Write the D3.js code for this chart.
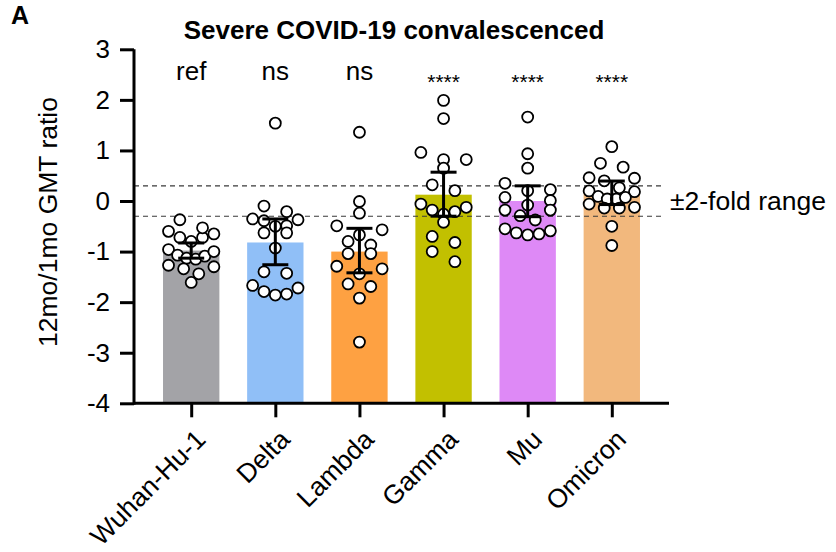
<!DOCTYPE html>
<html>
<head>
<meta charset="utf-8">
<script src="https://cdn.jsdelivr.net/npm/d3@7"></script>
<style>
  body { margin: 0; background: #fff; }
  text { font-family: "Liberation Sans", Arial, Helvetica, sans-serif; fill: #000; }
</style>
</head>
<body>
<svg id="chart" width="836" height="552"></svg>
<script>
// variants, bar colours and significance labels
var variants = ["Wuhan-Hu-1", "Delta", "Lambda", "Gamma", "Mu", "Omicron"];
var colors = ["#a3a3a7", "#90bff7", "#fea142", "#c2c000", "#de89f6", "#f2b87d"];
var sigLabels = ["ref", "ns", "ns", "****", "****", "****"];

// log10 ratio per donor
var wuhanVals = [-0.37, -0.60, -0.72, -0.80, -0.72, -0.65, -0.53, -0.96, -1.07, -1.13, -1.27, -1.15, -1.09, -1.00, -1.34, -1.30, -1.44, -1.61];
var deltaVals = [1.54, -0.10, -0.21, -0.355, -0.39, -0.50, -0.37, -0.49, -0.63, -0.63, -0.93, -1.43, -1.40, -1.67, -1.79, -1.86, -1.84, -1.72];
var lambdaVals = [1.36, -0.01, -0.24, -0.49, -0.57, -0.67, -0.80, -0.87, -1.04, -1.04, -1.29, -1.44, -1.34, -1.64, -1.69, -1.92, -2.79];
var gammaVals = [1.99, 1.63, 0.96, 0.82, 0.82, 0.65, 0.32, 0.205, -0.06, -0.125, -0.21, -0.26, -0.18, -0.42, -0.70, -0.82, -1.00, -1.20];
var muVals = [1.66, 0.935, 0.65, 0.35, 0.205, 0.225, 0.07, 0.01, -0.08, -0.18, -0.18, -0.29, -0.375, -0.55, -0.63, -0.67, -0.65, -0.59];
var omicronVals = [1.075, 0.67, 0.745, 0.46, 0.45, 0.40, 0.26, 0.20, 0.185, 0.09, 0.04, 0.04, 0.07, -0.125, -0.14, -0.14, -0.06, -0.50, -0.88];
var allVals = [wuhanVals, deltaVals, lambdaVals, gammaVals, muVals, omicronVals];

// bar heights (mean) and error bar ends
var means = [-0.98, -0.82, -1.00, 0.125, 0.00, 0.15];
var ciLow = [-1.13, -1.26, -1.42, -0.30, -0.31, -0.07];
var ciHigh = [-0.83, -0.355, -0.54, 0.57, 0.30, 0.395];

var yTicks = [-4, -3, -2, -1, 0, 1, 2, 3];
var foldLimit = Math.log10(2);

var svg = d3.select("#chart");

var x = d3.scalePoint()
    .domain(variants)
    .range([134, 669])
    .padding(0.68);
var step = x.step();
var barW = step * 0.67;

var y = d3.scaleLinear()
    .domain([-4, 3])
    .range([403.3, 49.3]);

// bars
svg.append("g").selectAll("rect")
  .data(variants)
  .enter().append("rect")
    .attr("x", function(d) { return x(d) - barW / 2; })
    .attr("width", barW)
    .attr("y", function(d, i) { return Math.min(y(means[i]), y(-4)); })
    .attr("height", function(d, i) { return y(-4) - y(means[i]); })
    .attr("fill", function(d, i) { return colors[i]; });

// +-2 fold dashed lines
svg.append("g").selectAll("line")
  .data([foldLimit, -foldLimit])
  .enter().append("line")
    .attr("x1", 134)
    .attr("x2", 663)
    .attr("y1", function(d) { return y(d); })
    .attr("y2", function(d) { return y(d); })
    .attr("stroke", "#3a3a3a")
    .attr("stroke-width", 1.2)
    .attr("stroke-dasharray", "5,4");

svg.append("text")
    .attr("x", 670)
    .attr("y", y(0) + 9)
    .attr("font-size", 26.5)
    .text("\u00b12-fold range");

// Prism-like scatter: group points into rows of about one diameter,
// spread each row across the bar, highest values at the outside
var r = 5.5;
function swarm(vals) {
  var binH = 2 * r;
  var order = vals.map(function(v, i) { return i; })
    .sort(function(a, b) { return vals[b] - vals[a]; });
  var rows = [];
  order.forEach(function(i) {
    var py = y(vals[i]);
    var row = rows[rows.length - 1];
    if (!row || py - row.y0 >= binH) {
      row = { y0: py, items: [] };
      rows.push(row);
    }
    row.items.push(i);
  });
  var out = new Array(vals.length);
  rows.forEach(function(row) {
    var n = row.items.length;
    var sp = n > 1 ? Math.min(barW / 2 - 5.5, (barW - 2 * r) / (n - 1)) : 0;
    // slot order: outer left, outer right, next left, ...
    var lo = 0, hi = n - 1;
    row.items.forEach(function(i, k) {
      var slot = (k % 2 === 0) ? lo++ : hi--;
      out[i] = { dx: (slot - (n - 1) / 2) * sp, y: y(vals[i]) };
    });
  });
  return out;
}

var pointGroup = svg.append("g");
allVals.forEach(function(vals, i) {
  var pts = swarm(vals);
  pointGroup.selectAll(null)
    .data(pts)
    .enter().append("circle")
      .attr("cx", function(d) { return x(variants[i]) + d.dx; })
      .attr("cy", function(d) { return d.y; })
      .attr("r", r)
      .attr("fill", "#fff")
      .attr("stroke", "#000")
      .attr("stroke-width", 1.8);
});

// error bars
var errGroup = svg.append("g")
    .attr("stroke", "#000")
    .attr("stroke-width", 3);
variants.forEach(function(v, i) {
  var cx = x(v);
  errGroup.append("line")
    .attr("x1", cx).attr("x2", cx)
    .attr("y1", y(ciLow[i])).attr("y2", y(ciHigh[i]));
  [ciLow[i], ciHigh[i]].forEach(function(e) {
    errGroup.append("line")
      .attr("x1", cx - 13).attr("x2", cx + 13)
      .attr("y1", y(e)).attr("y2", y(e));
  });
});

// axes
var yAxis = svg.append("g")
    .attr("transform", "translate(134,0)")
    .call(d3.axisLeft(y).tickValues(yTicks).tickSize(14).tickPadding(10).tickFormat(d3.format("d")));
var xAxis = svg.append("g")
    .attr("transform", "translate(0," + y(-4) + ")")
    .call(d3.axisBottom(x).tickSize(14).tickFormat(""));

[yAxis, xAxis].forEach(function(ax) {
  ax.select(".domain").attr("stroke", "#000").attr("stroke-width", 3);
  ax.selectAll(".tick line").attr("stroke", "#000").attr("stroke-width", 3);
});
xAxis.select(".domain").attr("d", "M134,0H669");
yAxis.select(".domain").attr("d", "M0," + (y(-4) + 1.5) + "V" + y(3));
yAxis.selectAll(".tick text")
    .attr("font-size", 26)
    .attr("font-family", "Liberation Sans, Arial, sans-serif")
    .attr("fill", "#000")
    .text(function(d) { return d < 0 ? "-" + Math.abs(d) : d; });

// rotated category labels
svg.append("g").selectAll("text")
  .data(variants)
  .enter().append("text")
    .attr("transform", function(d) { return "translate(" + (x(d) + 16) + ",441) rotate(-45)"; })
    .attr("text-anchor", "end")
    .attr("font-size", 26.5)
    .text(function(d) { return d; });

// significance labels
svg.append("g").selectAll("text")
  .data(variants)
  .enter().append("text")
    .attr("x", function(d) { return x(d); })
    .attr("y", function(d, i) { return sigLabels[i] === "****" ? 89 : 80; })
    .attr("text-anchor", "middle")
    .attr("font-size", function(d, i) { return sigLabels[i] === "****" ? 21 : 26; })
    .text(function(d, i) { return sigLabels[i]; });

// y label
svg.append("text")
    .attr("transform", "translate(57," + 222 + ") rotate(-90)")
    .attr("text-anchor", "middle")
    .attr("font-size", 26.5)
    .text("12mo/1mo GMT ratio");

// title and panel letter
svg.append("text")
    .attr("x", 394)
    .attr("y", 39)
    .attr("text-anchor", "middle")
    .attr("font-size", 26)
    .attr("font-weight", "bold")
    .text("Severe COVID-19 convalescenced");

svg.append("text")
    .attr("x", 11)
    .attr("y", 24)
    .attr("font-size", 25)
    .attr("font-weight", "bold")
    .text("A");
</script>
</body>
</html>
